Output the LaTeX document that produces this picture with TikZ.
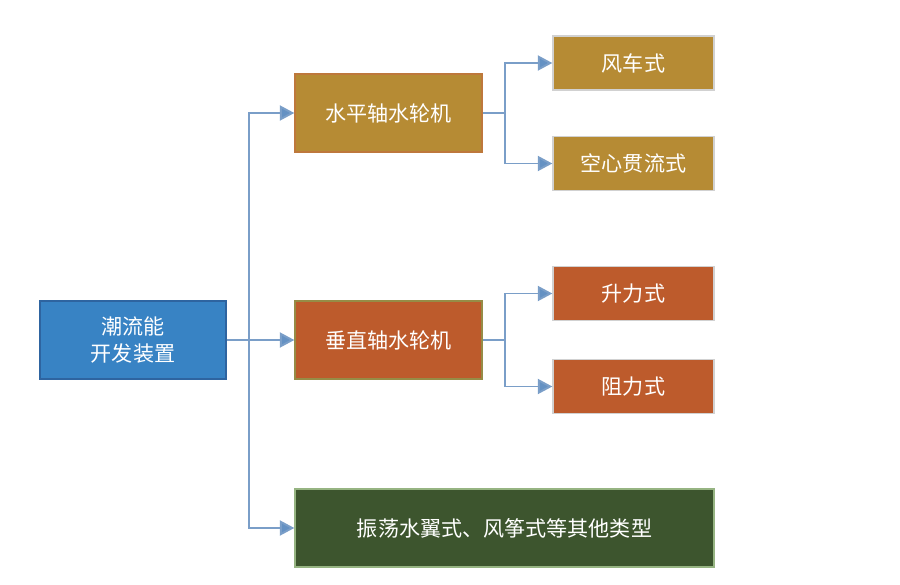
\documentclass[tikz,border=0pt]{standalone}
\usepackage{fontspec}
\setmainfont{Noto Sans CJK SC}
\usetikzlibrary{arrows.meta}
\definecolor{rootblue}{RGB}{56,131,196}
\definecolor{rootline}{RGB}{46,100,160}
\definecolor{gold}{RGB}{182,139,52}
\definecolor{goldline}{RGB}{190,120,60}
\definecolor{rust}{RGB}{189,91,44}
\definecolor{rustline}{RGB}{150,140,70}
\definecolor{moss}{RGB}{61,85,46}
\definecolor{mossline}{RGB}{150,180,130}
\definecolor{linkblue}{RGB}{122,158,200}
\definecolor{tipblue}{RGB}{100,145,195}
\begin{document}
\begin{tikzpicture}[
		x=0.02cm, y=-0.02cm,
		box/.style={rectangle, text=white, font=\fontsize{12}{15}\selectfont, align=center, inner sep=0pt, line width=0.8pt},
		top/.style={box, minimum width=3.74cm, minimum height=1.56cm},
		leaf/.style={box, minimum width=3.22cm, minimum height=1.08cm, draw=black!18},
		conn/.style={draw=linkblue, line width=1.1pt},
		arr/.style={conn, -{Triangle[width=0.3cm, length=0.29cm, fill=tipblue]}}
	]
	\useasboundingbox (0,0) rectangle (900,585);
	% root
	\node[top, fill=rootblue, draw=rootline, minimum width=3.72cm] (root) at (133,340) {潮流能\\开发装置};
	% second level
	\node[top, fill=gold, draw=goldline] (hor) at (388.5,113) {水平轴水轮机};
	\node[top, fill=rust, draw=rustline] (ver) at (388.5,340) {垂直轴水轮机};
	\node[top, fill=moss, draw=mossline, minimum width=8.38cm] (osc) at (504.5,528) {振荡水翼式、风筝式等其他类型};
	% leaves
	\node[leaf, fill=gold] (wind) at (633.5,63) {风车式};
	\node[leaf, fill=gold] (hollow) at (633.5,163.5) {空心贯流式};
	\node[leaf, fill=rust] (lift) at (633.5,293.5) {升力式};
	\node[leaf, fill=rust] (drag) at (633.5,386.5) {阻力式};
	% junctions
	\coordinate (jroot) at (249,340);
	\coordinate (jhor) at (505,113);
	\coordinate (jver) at (505,340);
	\draw[conn] (root.east) -- (jroot);
	\foreach \n in {hor,ver,osc}
		\draw[arr] (jroot) |- (\n.west);
	\draw[conn] (hor.east) -- (jhor);
	\draw[arr] (jhor) |- (wind.west);
	\draw[arr] (jhor) |- (hollow.west);
	\draw[conn] (ver.east) -- (jver);
	\draw[arr] (jver) |- (lift.west);
	\draw[arr] (jver) |- (drag.west);
\end{tikzpicture}
\end{document}
